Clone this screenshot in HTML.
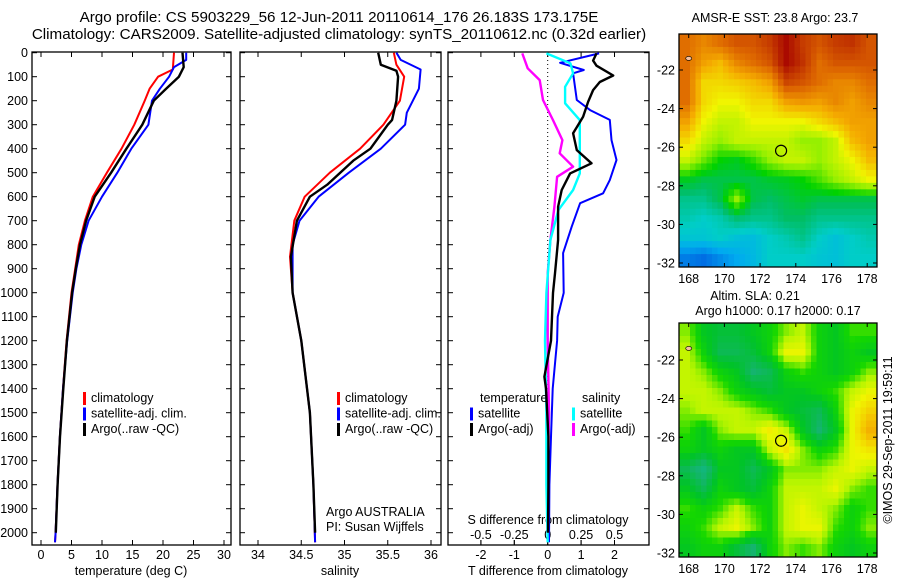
<!DOCTYPE html>
<html><head><meta charset="utf-8"><style>
body{margin:0;background:#fff}
svg{display:block;font-family:"Liberation Sans",sans-serif}
text{fill:#000}
</style></head><body>
<svg id="c" width="900" height="580" viewBox="0 0 900 580">
<text x="339" y="22" font-size="15.2" text-anchor="middle">Argo profile: CS 5903229_56 12-Jun-2011 20110614_176 26.183S 173.175E</text>
<text x="339" y="39" font-size="15.2" text-anchor="middle">Climatology: CARS2009. Satellite-adjusted climatology: synTS_20110612.nc (0.32d earlier)</text>
<text x="775" y="22" font-size="12.5" text-anchor="middle">AMSR-E SST: 23.8 Argo: 23.7</text>
<text x="755" y="300" font-size="12.5" text-anchor="middle">Altim. SLA: 0.21</text>
<text x="778" y="315" font-size="12.5" text-anchor="middle">Argo h1000: 0.17 h2000: 0.17</text>
<text transform="translate(892,440) rotate(-90)" font-size="12.5" text-anchor="middle">©IMOS 29-Sep-2011 19:59:11</text>
</svg>
<script>
// ---------- data ----------
const depthTicks=[0,100,200,300,400,500,600,700,800,900,1000,1100,1200,1300,1400,1500,1600,1700,1800,1900,2000];
const tempTicks=[0,5,10,15,20,25,30];
const salTicks=[34,34.5,35,35.5,36];
const tdiffTicks=[-2,-1,0,1,2];
const sdiffTicks=[-0.5,-0.25,0,0.25,0.5];
const sdiffLabels=["-0.5","-0.25","0","0.25","0.5"];
// temperature profiles: [depth, value]
const tempClim=[[0,21.8],[70,21.6],[100,19.2],[150,17.8],[200,17],[300,15.3],[400,13.2],[500,10.8],[600,8.5],[700,7.2],[800,6.2],[900,5.6],[1000,5.0],[1200,4.2],[1400,3.6],[1600,3.1],[1800,2.7],[2000,2.4],[2040,2.3]];
const tempSat=[[0,23.8],[30,23.8],[60,21.8],[100,21],[150,19.5],[200,18.2],[300,17.6],[400,14.8],[500,12.5],[600,10],[700,7.8],[800,6.6],[900,5.8],[1000,5.2],[1200,4.3],[1400,3.6],[1600,3.1],[1800,2.7],[2000,2.4],[2040,2.3]];
const tempArgo=[[0,23.2],[60,23.4],[100,22.6],[150,20.5],[200,18.5],[300,16.6],[400,14],[500,11.5],[600,8.8],[700,7.4],[800,6.4],[900,5.7],[1000,5.1],[1200,4.25],[1400,3.65],[1600,3.12],[1800,2.72],[2000,2.42]];
const salClim=[[0,35.57],[50,35.6],[100,35.69],[200,35.64],[300,35.45],[400,35.18],[500,34.83],[600,34.54],[700,34.42],[850,34.37],[1000,34.4],[1200,34.5],[1500,34.6],[1800,34.64],[2040,34.66]];
const salSat=[[0,35.6],[30,35.65],[70,35.88],[150,35.86],[250,35.72],[300,35.7],[400,35.42],[500,35.05],[600,34.7],[700,34.48],[800,34.4],[1000,34.4],[1200,34.5],[1500,34.6],[1800,34.64],[2040,34.66]];
const salArgo=[[0,35.39],[50,35.42],[75,35.6],[100,35.62],[200,35.6],[280,35.55],[300,35.5],[400,35.3],[450,35.1],[500,34.95],[550,34.8],[600,34.6],[700,34.45],[850,34.38],[1000,34.4],[1200,34.5],[1500,34.6],[1800,34.64],[2000,34.66]];
const tdiffSat=[[3,1.54],[42,0.37],[72,1.08],[86,0.76],[197,0.87],[239,1.27],[280,1.86],[364,1.91],[447,2.06],[531,1.86],[586,1.66],[627,0.97],[725,0.72],[835,0.46],[1001,0.48],[1100,0.3],[1200,0.28],[1400,0.15],[1600,0.1],[1800,0.05],[2040,0.04]];
const tdiffArgo=[[3,1.46],[33,1.36],[54,1.46],[95,1.96],[122,1.56],[156,1.36],[205,1.21],[267,1.06],[336,0.76],[406,0.87],[461,1.31],[503,0.67],[572,0.42],[642,0.31],[780,0.31],[919,0.22],[1001,0.16],[1200,0.1],[1350,-0.1],[1400,-0.05],[1600,0.02],[1800,0.02],[2000,0.01]];
const sdiffSat=[[3,-0.01],[44,0.17],[86,0.19],[142,0.13],[211,0.13],[281,0.24],[364,0.24],[503,0.24],[572,0.19],[656,0.08],[780,0.02],[1001,-0.01],[1200,-0.02],[1500,-0.01],[1800,-0.01],[2040,0]];
const sdiffArgo=[[3,-0.19],[65,-0.15],[114,-0.06],[197,-0.035],[281,0.04],[364,0.11],[419,0.09],[475,0.19],[517,0.07],[642,0.05],[780,0.02],[919,0.0],[1200,0.0],[1500,0.01],[1800,0.0],[2000,0.0]];
const lonTicks=[168,170,172,174,176,178];
const latTicks=[-22,-24,-26,-28,-30,-32];
// SST map grid (0=cold blue, 1=warm dark red), rows north->south
const sstGrid=[
[0.8,0.75,0.8,0.85,0.85,0.9,1.0,0.9,0.85,0.9,0.92,0.85],
[0.8,0.7,0.65,0.75,0.8,0.85,1.0,0.92,0.8,0.85,0.85,0.85],
[0.8,0.6,0.6,0.62,0.65,0.7,0.88,0.85,0.8,0.75,0.75,0.8],
[0.8,0.6,0.55,0.55,0.6,0.6,0.7,0.72,0.7,0.75,0.7,0.75],
[0.7,0.55,0.5,0.5,0.55,0.55,0.55,0.55,0.6,0.65,0.7,0.7],
[0.6,0.5,0.45,0.5,0.5,0.5,0.5,0.45,0.45,0.5,0.65,0.7],
[0.5,0.42,0.35,0.33,0.38,0.45,0.5,0.5,0.45,0.5,0.55,0.65],
[0.33,0.3,0.3,0.3,0.3,0.32,0.33,0.35,0.4,0.45,0.5,0.55],
[0.25,0.25,0.3,0.45,0.3,0.28,0.3,0.32,0.3,0.3,0.3,0.3],
[0.22,0.2,0.22,0.27,0.25,0.25,0.28,0.28,0.25,0.25,0.25,0.25],
[0.18,0.18,0.2,0.17,0.16,0.2,0.22,0.25,0.2,0.17,0.2,0.22],
[0.06,0.04,0.08,0.12,0.15,0.2,0.2,0.2,0.18,0.17,0.2,0.2]];
const slaGrid=[
[0.45,0.3,0.25,0.25,0.3,0.35,0.45,0.5,0.35,0.3,0.4,0.4],
[0.5,0.35,0.2,0.2,0.25,0.35,0.55,0.55,0.35,0.3,0.35,0.3],
[0.5,0.45,0.35,0.3,0.15,0.2,0.35,0.4,0.35,0.3,0.35,0.45],
[0.5,0.5,0.45,0.35,0.3,0.25,0.3,0.3,0.35,0.4,0.5,0.55],
[0.45,0.5,0.5,0.5,0.45,0.4,0.3,0.25,0.2,0.35,0.55,0.65],
[0.4,0.3,0.45,0.5,0.5,0.58,0.5,0.3,0.15,0.3,0.55,0.75],
[0.35,0.3,0.35,0.3,0.3,0.5,0.6,0.45,0.35,0.4,0.55,0.6],
[0.2,0.1,0.3,0.3,0.2,0.3,0.45,0.45,0.45,0.5,0.55,0.5],
[0.3,0.2,0.35,0.3,0.25,0.35,0.5,0.5,0.5,0.55,0.45,0.4],
[0.4,0.35,0.4,0.5,0.4,0.35,0.5,0.55,0.5,0.45,0.35,0.4],
[0.35,0.4,0.5,0.55,0.45,0.35,0.5,0.55,0.55,0.4,0.35,0.45],
[0.3,0.35,0.35,0.25,0.15,0.35,0.45,0.4,0.45,0.35,0.3,0.35]];
const argoLon=173.175, argoLat=-26.183;

// ---------- drawing ----------
const svg=document.getElementById('c');
const NS='http://www.w3.org/2000/svg';
function mk(tag,attrs,parent){const e=document.createElementNS(NS,tag);for(const k in attrs)e.setAttribute(k,attrs[k]);(parent||svg).appendChild(e);return e;}
function txt(x,y,s,size,anchor,parent){const t=mk('text',{x:x,y:y,'font-size':size,'text-anchor':anchor||'middle'},parent);t.textContent=s;return t;}
const TOP=52, BOT=545, Y0=52.7, YS=0.24;
const yD=d=>Y0+d*YS;
const panels=[{x0:32,x1:231,name:'temperature-panel'},{x0:240,x1:441,name:'salinity-panel'},{x0:448,x1:649,name:'difference-panel'}];
const xT=v=>41+v*6.1, xS=v=>258+(v-34)*86.5, xTD=v=>547.7+v*33.4, xSD=v=>547.7+v*133.6;

panels.forEach(p=>{
  const g=mk('g',{});
  
  
  mk('rect',{x:p.x0,y:TOP,width:p.x1-p.x0,height:BOT-TOP,fill:'none',stroke:'#000','stroke-width':1.3},g);
  depthTicks.forEach(d=>{mk('line',{x1:p.x0,x2:p.x0+5,y1:yD(d),y2:yD(d),stroke:'#000'},g);mk('line',{x1:p.x1,x2:p.x1-5,y1:yD(d),y2:yD(d),stroke:'#000'},g);});
});
const yax=mk('g',{});


depthTicks.forEach(d=>txt(28,yD(d)+4.5,String(d),12.5,'end',yax));

function xAxis(ticks,labels,fx,ly,name,insideY){
  const g=mk('g',{});
  
  
  ticks.forEach((v,i)=>{const x=fx(v);
    if(insideY===undefined){mk('line',{x1:x,x2:x,y1:BOT,y2:BOT-5,stroke:'#000'},g);mk('line',{x1:x,x2:x,y1:TOP,y2:TOP+5,stroke:'#000'},g);}
    else{mk('line',{x1:x,x2:x,y1:insideY,y2:insideY-5,stroke:'#000'},g);}
    txt(x,ly,labels[i],12.5,'middle',g);});
}
xAxis(tempTicks,tempTicks.map(String),xT,559,'temperature-x-axis');
txt(131,575,'temperature (deg C)',12.5);
xAxis(salTicks,salTicks.map(String),xS,559,'salinity-x-axis');
txt(340,575,'salinity',12.5);
xAxis(tdiffTicks,tdiffTicks.map(v=>v<0?'-'+Math.abs(v):String(v)),xTD,559,'t-diff-x-axis');
txt(548,575,'T difference from climatology',12.5);
xAxis(sdiffTicks,sdiffLabels,xSD,539,'s-diff-x-axis',BOT);
txt(548,524,'S difference from climatology',12.5);

function line(pts,fx,color,name,w){
  const d=pts.map((p,i)=>(i?'L':'M')+fx(p[1]).toFixed(1)+','+yD(p[0]).toFixed(1)).join('');
  const e=mk('path',{d:d,fill:'none',stroke:color,'stroke-width':w||2,'stroke-linejoin':'round'});
  
  
}
mk('line',{x1:xTD(0),x2:xTD(0),y1:TOP,y2:BOT,stroke:'#000','stroke-dasharray':'1,3'});
line(tempClim,xT,'#f00','temp-climatology-line');
line(tempSat,xT,'#00f','temp-satellite-line');
line(tempArgo,xT,'#000','temp-argo-line',2.4);
line(salClim,xS,'#f00','sal-climatology-line');
line(salSat,xS,'#00f','sal-satellite-line');
line(salArgo,xS,'#000','sal-argo-line',2.4);
line(tdiffSat,xTD,'#00f','tdiff-satellite-line');
line(sdiffArgo,xSD,'#f0f','sdiff-argo-line',2.4);
line(sdiffSat,xSD,'#0ff','sdiff-satellite-line',2.4);
line(tdiffArgo,xTD,'#000','tdiff-argo-line',2.4);

function legend(x,y,items,name){
  const g=mk('g',{});
  
  
  items.forEach((it,i)=>{const yy=y+i*15.5;
    if(it[1])mk('rect',{x:x,y:yy-10,width:3,height:13,fill:it[1]},g);
    txt(x+(it[1]?8:10),yy,it[0],12.5,'start',g);});
}
legend(83,402,[['climatology','#f00'],['satellite-adj. clim.','#00f'],['Argo(..raw -QC)','#000']],'temp-legend');
legend(337,402,[['climatology','#f00'],['satellite-adj. clim.','#00f'],['Argo(..raw -QC)','#000']],'sal-legend');
legend(470,402,[['temperature',null],['satellite','#00f'],['Argo(-adj)','#000']],'tdiff-legend');
legend(572,402,[['salinity',null],['satellite','#0ff'],['Argo(-adj)','#f0f']],'sdiff-legend');
txt(326,516,'Argo AUSTRALIA',12.5,'start');
txt(326,531,'PI: Susan Wijffels',12.5,'start');

// colormaps
const sstStops=[[0,[0,80,220]],[0.12,[0,170,240]],[0.2,[0,205,200]],[0.28,[0,190,100]],[0.35,[0,210,0]],[0.45,[150,240,0]],[0.55,[240,245,0]],[0.68,[245,170,0]],[0.82,[220,100,0]],[1,[170,10,0]]];
const slaStops=[[0,[10,190,150]],[0.15,[20,180,110]],[0.28,[0,195,40]],[0.38,[20,215,0]],[0.48,[180,245,0]],[0.56,[240,245,0]],[0.7,[245,190,0]],[0.85,[240,150,0]],[1,[220,100,0]]];
function cmap(stops,v){for(let i=1;i<stops.length;i++){if(v<=stops[i][0]){const a=stops[i-1],b=stops[i],t=(v-a[0])/(b[0]-a[0]);return 'rgb('+a[1].map((c,k)=>Math.round(c+(b[1][k]-c)*t)).join(',')+')';}}const l=stops[stops.length-1][1];return 'rgb('+l.join(',')+')';}

function sample(grid,r,c){
  const R=grid.length,C=grid[0].length;
  r=Math.max(0,Math.min(R-1,r));c=Math.max(0,Math.min(C-1,c));
  const r0=Math.floor(r),c0=Math.floor(c),r1=Math.min(R-1,r0+1),c1=Math.min(C-1,c0+1),fr=r-r0,fc=c-c0;
  return grid[r0][c0]*(1-fr)*(1-fc)+grid[r0][c1]*(1-fr)*fc+grid[r1][c0]*fr*(1-fc)+grid[r1][c1]*fr*fc;
}
function map(grid,stops,mx0,my0,mx1,my1,lat22y,name,bottomLabelY){
  const g=mk('g',{});
  
  
  const SUB=3,rows=grid.length*SUB,cols=grid[0].length*SUB,cw=(mx1-mx0)/cols,ch=(my1-my0)/rows;
  for(let i=0;i<rows;i++)for(let j=0;j<cols;j++){
    const v=sample(grid,(i+0.5)/SUB-0.5,(j+0.5)/SUB-0.5);
    const c=mk('rect',{x:(mx0+j*cw).toFixed(2),y:(my0+i*ch).toFixed(2),width:(cw+0.4).toFixed(2),height:(ch+0.4).toFixed(2),fill:cmap(stops,v)},g);
    
    
  }
  mk('rect',{x:mx0,y:my0,width:mx1-mx0,height:my1-my0,fill:'none',stroke:'#000','stroke-width':1.3},g);
  const lx=v=>688.7+(v-168)*17.85, ly=v=>lat22y+(-22-v)*19.3;
  lonTicks.forEach(v=>{mk('line',{x1:lx(v),x2:lx(v),y1:my1,y2:my1-4,stroke:'#000'},g);mk('line',{x1:lx(v),x2:lx(v),y1:my0,y2:my0+4,stroke:'#000'},g);txt(lx(v),bottomLabelY,String(v),12.5,'middle',g);});
  latTicks.forEach(v=>{mk('line',{x1:mx0,x2:mx0+4,y1:ly(v),y2:ly(v),stroke:'#000'},g);mk('line',{x1:mx1,x2:mx1-4,y1:ly(v),y2:ly(v),stroke:'#000'},g);txt(mx0-4,ly(v)+4.5,String(v),12.5,'end',g);});
  const m=mk('circle',{cx:lx(argoLon),cy:ly(argoLat),r:5.5,fill:'none',stroke:'#000','stroke-width':1.2},g);
  
  
  mk('ellipse',{cx:lx(168),cy:ly(-21.4),rx:3,ry:2,fill:'#f4c0a0',stroke:'#000','stroke-width':0.6},g);
}
map(sstGrid,sstStops,679,34,877,267,70,'sst-map',283);
map(slaGrid,slaStops,679,323,877,557,360,'sla-map',573);
</script>
</body></html>
